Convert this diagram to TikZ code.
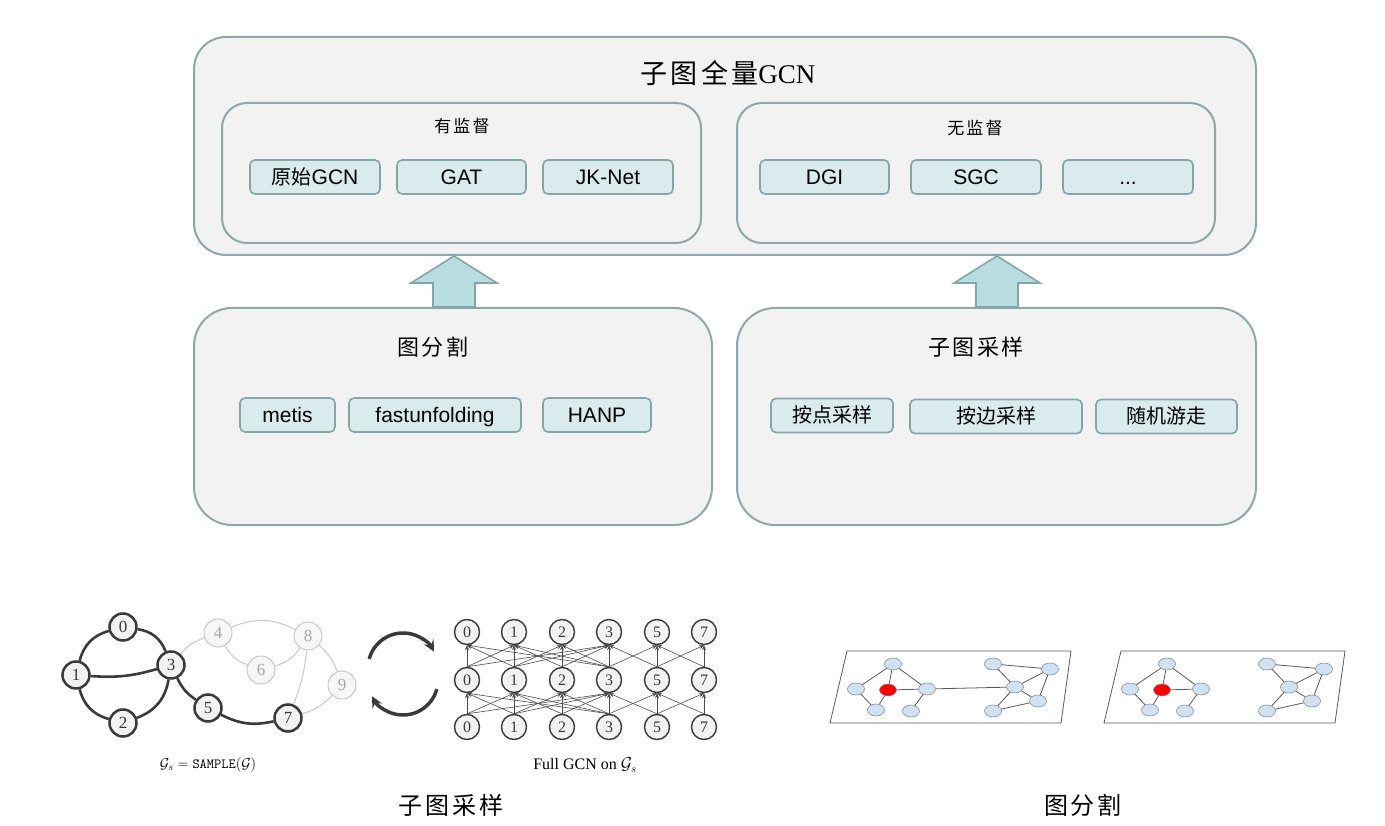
\documentclass[tikz,border=0pt]{standalone}
\usepackage{fontspec}
\setmainfont{Liberation Serif}
\newfontfamily\cjk{Noto Sans CJK SC}
\newfontfamily\cjks[LetterSpace=12]{Noto Sans CJK SC}
\newfontfamily\arial{Liberation Sans}
\usetikzlibrary{arrows.meta,shapes.geometric}
\definecolor{boxfill}{HTML}{F2F2F2}
\definecolor{boxline}{HTML}{8EA8A9}
\definecolor{itemfill}{HTML}{DAEBEE}
\definecolor{itemline}{HTML}{86A5A7}
\definecolor{arrowfill}{HTML}{B7DDE1}
\definecolor{nodeblue}{HTML}{CFE2F3}
\definecolor{dark}{HTML}{3A3A3A}
\definecolor{light}{HTML}{C8C8C8}
\newcommand\fs[1]{\fontsize{#1}{#1}\selectfont}
\newcommand\drawpart[3]{%
\begin{scope}[xshift=#2]
  \draw[plane] (847,651) -- (1071,651) -- (1061,723) -- (830,723) -- cycle;
  \node[gn] (#1a) at (893,664) {};
  \node[gn] (#1b) at (856,689) {};
  \node[gn,fill=red] (#1r) at (888,690) {};
  \node[gn] (#1c) at (927,689) {};
  \node[gn] (#1d) at (876,710) {};
  \node[gn] (#1e) at (911,711) {};
  \node[gn] (#1f) at (993,664) {};
  \node[gn] (#1g) at (1050,669) {};
  \node[gn] (#1h) at (1015,687) {};
  \node[gn] (#1i) at (1038,701) {};
  \node[gn] (#1j) at (993,711) {};
  \foreach \u/\v in {a/b,a/r,a/c,b/d,r/d,r/c,c/e,f/h,f/g,h/g,g/i,h/i,h/j,j/i}
    \draw[pe] (#1\u) -- (#1\v);
  \ifnum#3=1 \draw[pe] (#1c) -- (#1h);\fi
\end{scope}}
\tikzset{
  panel/.style={draw=boxline, fill=boxfill, line width=2pt, inner sep=0pt},
  item/.style={draw=itemline, fill=itemfill, line width=1.6pt, rounded corners=5pt,
    minimum height=34pt, inner sep=0pt, text height=19pt, text depth=4pt, font=\arial\fs{21}},
  bigarrow/.style={draw=itemline, fill=arrowfill, line width=1.6pt},
  snode/.style={circle, draw=dark, line width=2.5pt, fill=boxfill, minimum size=27pt,
    inner sep=0pt, font=\fs{17}, text=dark},
  lnode/.style={circle, draw=light, line width=1pt, fill=boxfill!60!white, minimum size=28pt,
    inner sep=0pt, font=\fs{17}, text=black!35},
  sedge/.style={draw=dark, line width=2.6pt},
  ledge/.style={draw=light, line width=1pt},
  gcn/.style={circle, draw=dark, line width=1.4pt, fill=boxfill, minimum size=25pt,
    inner sep=0pt, font=\fs{16}, text=dark},
  gedge/.style={draw=black!70, line width=0.6pt, -{Stealth[length=5pt,width=4pt]}},
  cyc/.style={draw=dark, line width=3.5pt, -{Stealth[length=11pt,width=11pt,inset=4pt]}},
  plane/.style={draw=black!65, line width=0.8pt, fill=white},
  gn/.style={ellipse, draw=black!45, line width=0.6pt, fill=nodeblue, minimum width=17pt,
    minimum height=12pt, inner sep=0pt},
  pe/.style={draw=black!65, line width=0.8pt},
}
\begin{document}
\begin{tikzpicture}[x=1pt,y=-1pt]
\useasboundingbox[fill=white] (0,0) rectangle (1385,826);
% ---------- top panel ----------
\node[panel, rounded corners=32pt, minimum width=1062pt, minimum height=218pt] (top) at (725,146) {};
\node (toptitle) at (728,73) {\cjks\fs{27}子图全量\rmfamily GCN};
\node[panel, rounded corners=25pt, minimum width=479pt, minimum height=140pt] (sup) at (461.5,173) {};
\node[panel, rounded corners=25pt, minimum width=478pt, minimum height=140pt] (unsup) at (976,173) {};
\node (suptitle) at (462,126) {\cjks\fs{17}有监督};
\node (unsuptitle) at (975,128) {\cjks\fs{17}无监督};
\node[item, minimum width=130pt] (i1) at (315,177) {{\cjk\fs{20}原始}GCN};
\node[item, minimum width=129pt] (i2) at (461.5,177) {GAT};
\node[item, minimum width=130pt] (i3) at (608,177) {JK-Net};
\node[item, minimum width=129pt] (i4) at (824.5,177) {DGI};
\node[item, minimum width=130pt] (i5) at (976,177) {SGC};
\node[item, minimum width=130pt] (i6) at (1128,177) {...};
% ---------- middle panels ----------
\node[panel, rounded corners=38pt, minimum width=518pt, minimum height=217pt] (part) at (453,416.5) {};
\node[panel, rounded corners=38pt, minimum width=519pt, minimum height=217pt] (samp) at (996.5,416.5) {};
\node (parttitle) at (433,347) {\cjks\fs{22}图分割};
\node (samptitle) at (976,347) {\cjks\fs{22}子图采样};
\node[item, minimum width=95pt] (m1) at (287.5,415) {metis};
\node[item, minimum width=172pt] (m2) at (435,415) {fastunfolding};
\node[item, minimum width=108pt] (m3) at (597,415) {HANP};
\node[item, minimum width=122pt, font=\cjk\fs{20}] (m4) at (832,415.5) {按点采样};
\node[item, minimum width=172pt, font=\cjk\fs{20}] (m5) at (996,416.5) {按边采样};
\node[item, minimum width=141pt, font=\cjk\fs{20}] (m6) at (1166.5,416.5) {随机游走};
% ---------- block arrows ----------
\draw[bigarrow] (part.north -| 433,0) -- (433,283) -- (411,283) -- (top.south -| 454,0) -- (497,283) -- (475,283) -- (part.north -| 475,0) -- cycle;
\draw[bigarrow] (samp.north -| 976,0) -- (976,283) -- (954,283) -- (top.south -| 997,0) -- (1040,283) -- (1018,283) -- (samp.north -| 1018,0) -- cycle;
% ---------- sample graph ----------
\node[lnode] (s4) at (218,633) {4};
\node[lnode] (s6) at (261,670) {6};
\node[lnode] (s8) at (308,636) {8};
\node[lnode] (s9) at (342,685) {9};
\node[snode] (s0) at (123,627) {0};
\node[snode] (s1) at (76,675) {1};
\node[snode] (s2) at (123,723) {2};
\node[snode] (s3) at (171,665) {3};
\node[snode] (s5) at (208,708) {5};
\node[snode] (s7) at (288,718) {7};
\draw[ledge] (s3) to[bend left=15] (s4);
\draw[ledge] (s4) to[bend left=25] (s8);
\draw[ledge] (s4) to[bend right=20] (s6);
\draw[ledge] (s6) to[bend right=20] (s8);
\draw[ledge] (s8) to[bend left=8] (s7);
\draw[ledge] (s8) to[bend left=15] (s9);
\draw[ledge] (s9) to[bend left=15] (s7);
\draw[sedge] (s1) to[bend left=30] (s0);
\draw[sedge] (s0) to[bend left=30] (s3);
\draw[sedge] (s1) to[bend right=10] (s3);
\draw[sedge] (s1) to[bend right=30] (s2);
\draw[sedge] (s2) to[bend right=30] (s3);
\draw[sedge] (s3) to[bend right=15] (s5);
\draw[sedge] (s5) to[bend right=20] (s7);
\node (scap) at (208,765) {\fs{14}$\mathcal{G}_s = \texttt{SAMPLE}(\mathcal{G})$};
% ---------- cycle arrows ----------
\coordinate (cu) at (403,668);
\coordinate (cl) at (403,680);
\draw[cyc] (cu) ++(-165:35) arc[start angle=-165, end angle=-28, radius=35];
\draw[cyc] (cl) ++(15:35) arc[start angle=15, end angle=152, radius=35];
% ---------- full GCN ----------
\foreach \c/\x/\l in {0/467/0,1/514/1,2/562/2,3/609/3,4/657/5,5/704/7} {
  \node[gcn] (t\c) at (\x,632) {\l};
  \node[gcn] (m\c) at (\x,680) {\l};
  \node[gcn] (b\c) at (\x,727) {\l};
}
\foreach \c in {0,...,5} {
  \draw[gedge] (m\c.north) -- (t\c.south);
  \draw[gedge] (b\c.north) -- (m\c.south);
}
\foreach \a/\b in {0/1,0/3,1/2,1/3,2/3,3/4,4/5} {
  \draw[gedge] (m\a.north) -- (t\b.south);
  \draw[gedge] (m\b.north) -- (t\a.south);
  \draw[gedge] (b\a.north) -- (m\b.south);
  \draw[gedge] (b\b.north) -- (m\a.south);
}
\node (gcap) at (585,765) {\fs{16}Full GCN on $\mathcal{G}_s$};
% ---------- partition graphs ----------
\drawpart{p}{0pt}{1}
\drawpart{q}{274pt}{0}
% ---------- captions ----------
\node (cap1) at (451,805) {\cjks\fs{24}子图采样};
\node (cap2) at (1083,805) {\cjks\fs{24}图分割};
\end{tikzpicture}
\end{document}
